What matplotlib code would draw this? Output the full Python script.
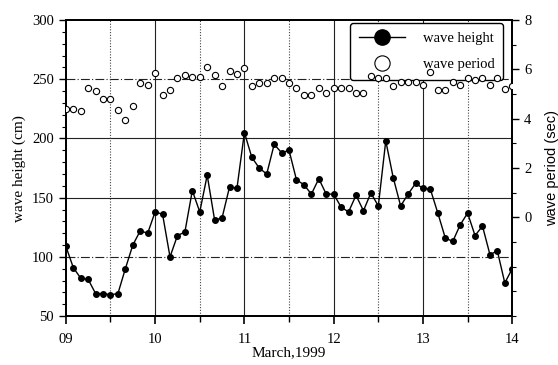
import matplotlib
matplotlib.use("Agg")
from matplotlib import pyplot as plt
import matplotlib.dates as mdates
from matplotlib.lines import Line2D
import numpy as np
import pandas as pd

# observations every 2 hours, 9 March 00:00 to 14 March 00:00
times = pd.date_range("1999-03-09 00:00", "1999-03-14 00:00", freq="2h")

wave_height = [
    109, 91, 82, 81, 69, 69, 68, 69, 90, 110, 122, 120,
    138, 136, 100, 118, 121, 156, 138, 169, 131, 133, 159, 158,
    205, 184, 175, 170, 195, 188, 190, 165, 161, 153, 166, 153,
    153, 142, 138, 152, 139, 154, 143, 198, 167, 143, 153, 162,
    158, 157, 137, 116, 113, 127, 137, 118, 126, 102, 105, 78,
    90,
]

wave_period = [
    4.39, 4.41, 4.31, 5.23, 5.12, 4.82, 4.81, 4.34, 3.93, 4.53, 5.46, 5.35,
    5.86, 4.95, 5.16, 5.67, 5.78, 5.68, 5.68, 6.09, 5.76, 5.34, 5.94, 5.83,
    6.04, 5.34, 5.43, 5.43, 5.67, 5.67, 5.45, 5.26, 4.95, 4.95, 5.26, 5.06,
    5.26, 5.26, 5.26, 5.06, 5.05, 5.72, 5.67, 5.64, 5.33, 5.48, 5.48, 5.48,
    5.37, 5.88, 5.15, 5.15, 5.48, 5.37, 5.67, 5.57, 5.67, 5.37, 5.67, 5.19,
    5.31,
]

height_ticks = [50, 100, 150, 200, 250, 300]
period_ticks = [0, 2, 4, 6, 8]

serif = ["Liberation Serif", "DejaVu Serif"]
sans = ["Liberation Sans", "DejaVu Sans"]

fig = plt.figure(figsize=(5.58, 3.65), dpi=100)
ax = fig.add_axes([0.118, 0.134, 0.800, 0.811])
ax2 = ax.twinx()

# grid
for v in [100, 250]:
    ax.axhline(v, color="#222222", lw=0.8, ls=(0, (8, 2, 1, 2)), zorder=1)
for v in [150, 200]:
    ax.axhline(v, color="#222222", lw=0.8, zorder=1)
for d in pd.date_range("1999-03-10", "1999-03-13", freq="D"):
    ax.axvline(d, color="#222222", lw=0.8, zorder=1)
for d in pd.date_range("1999-03-09 12:00", "1999-03-13 12:00", freq="D"):
    ax.axvline(d, color="#444444", lw=0.8, ls=(0, (1, 1.5)), zorder=1)

ax.plot(times, wave_height, color="black", lw=1.0, marker="o",
        markersize=4, zorder=3)
ax2.plot(times, wave_period, ls="none", marker="o", markersize=4.5,
         markerfacecolor="white", markeredgecolor="black",
         markeredgewidth=0.8, zorder=3)

ax.set_xlim(times[0], times[-1])
ax.set_ylim(50, 300)
ax2.set_ylim(-4, 8)

ax.xaxis.set_major_locator(mdates.DayLocator())
ax.xaxis.set_major_formatter(mdates.DateFormatter("%d"))
ax.xaxis.set_minor_locator(mdates.HourLocator(byhour=[12]))
ax.set_yticks(height_ticks)
ax.set_yticks(np.arange(50, 301, 10), minor=True)
ax2.set_yticks(period_ticks)
ax2.set_yticks(np.arange(-4, 9, 1), minor=True)

ax.tick_params(axis="x", which="major", direction="out", length=6, width=1.2,
               pad=6)
ax.tick_params(axis="x", which="minor", direction="out", length=4, width=1)
ax.tick_params(axis="y", which="major", direction="out", length=5, width=1)
ax.tick_params(axis="y", which="minor", direction="out", length=3, width=0.8)
ax2.tick_params(axis="y", which="major", direction="out", length=5, width=1)
ax2.tick_params(axis="y", which="minor", direction="out", length=3, width=0.8)

for lab in ax.get_xticklabels() + ax.get_yticklabels() + ax2.get_yticklabels():
    lab.set_fontfamily(serif)
    lab.set_fontsize(10.5)

for a in (ax, ax2):
    for s in a.spines.values():
        s.set_linewidth(1.3)

ax.set_xlabel("March,1999", family=serif, fontsize=11, labelpad=0)
ax.set_ylabel("wave height (cm)", family=serif, fontsize=11, labelpad=4)
ax2.set_ylabel("wave period (sec)", family=sans, fontsize=10.5, labelpad=10)

handles = [
    Line2D([], [], color="black", lw=1.0, marker="o", markersize=11),
    Line2D([], [], ls="none", marker="o", markersize=11,
           markerfacecolor="white", markeredgecolor="black",
           markeredgewidth=0.8),
]
leg = ax2.legend(handles, ["wave height", "wave period"], loc="upper right",
                 bbox_to_anchor=(0.98, 0.99), borderaxespad=0,
                 prop={"family": serif, "size": 10.5},
                 frameon=True, fancybox=True, handlelength=3.2,
                 borderpad=0.6, labelspacing=0.9, handletextpad=1.2,
                 framealpha=1)
leg.get_frame().set_edgecolor("black")
leg.get_frame().set_linewidth(1.0)
leg.set_zorder(2.5)

fig.savefig("out.png", dpi=100)
